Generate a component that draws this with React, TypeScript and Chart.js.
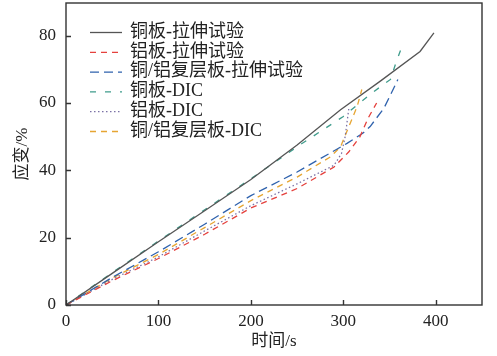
import React, { useEffect, useRef } from "react";
import { Chart, registerables } from "chart.js";

Chart.register(...registerables);

// ---- data ----
const cuTensileT = [0, 50, 100, 150, 200, 250, 297, 340, 383, 398];
const cuTensileS = [0, 9.4, 18.8, 28, 37.3, 47.5, 58, 66.5, 75.3, 80.8];

const alTensileT = [0, 50, 100, 150, 200, 250, 290, 306, 318, 327, 336];
const alTensileS = [0, 7.2, 13.8, 21, 28.8, 34.6, 41, 45.5, 50, 55.6, 60];

const compTensileT = [0, 50, 100, 150, 200, 250, 288, 304, 321, 329, 344, 351, 359];
const compTensileS = [0, 8.2, 15.8, 24, 32.5, 39.5, 45.5, 48, 51, 53, 58.5, 62.4, 67];

const cuDicT = [0, 50, 100, 150, 200, 250, 300, 331, 351, 357, 365];
const cuDicS = [0, 9.6, 19, 28.3, 37.5, 47, 56, 63, 67, 72, 78];

const alDicT = [0, 50, 100, 150, 200, 250, 290, 298, 302, 306];
const alDicS = [0, 7.6, 14.3, 22, 29.5, 36, 41.5, 45, 50, 58.5];

const compDicT = [0, 50, 100, 150, 200, 250, 286, 297, 306, 315, 320];
const compDicS = [0, 8, 15, 23, 31, 38, 44, 47, 53, 59, 64];

const seriesLabels = [
  "铜板-拉伸试验",
  "铝板-拉伸试验",
  "铜/铝复层板-拉伸试验",
  "铜板-DIC",
  "铝板-DIC",
  "铜/铝复层板-DIC",
];

const xTicks = [0, 100, 200, 300, 400];
const yTicks = [0, 20, 40, 60, 80];
const xTitle = "时间/s";
const yTitle = "应变/%";

const FONT = "'Liberation Serif', 'Times New Roman', 'Noto Sans CJK SC', serif";

const toPts = (t: number[], s: number[]) => t.map((v, i) => ({ x: v, y: s[i] }));

const framePlugin = {
  id: "frameTicks",
  afterDraw(chart: any) {
    const { ctx, chartArea } = chart;
    const xs = chart.scales.x;
    const ys = chart.scales.y;
    ctx.save();
    ctx.strokeStyle = "#333";
    ctx.lineWidth = 1.4;
    ctx.setLineDash([]);
    ctx.strokeRect(chartArea.left, chartArea.top, chartArea.right - chartArea.left, chartArea.bottom - chartArea.top);
    ctx.beginPath();
    for (const v of xTicks) {
      const px = Math.round(xs.getPixelForValue(v)) + 0.5;
      ctx.moveTo(px, chartArea.bottom);
      ctx.lineTo(px, chartArea.bottom - 5);
    }
    for (const v of yTicks) {
      const py = Math.round(ys.getPixelForValue(v)) + 0.5;
      ctx.moveTo(chartArea.left, py);
      ctx.lineTo(chartArea.left + 5, py);
    }
    ctx.stroke();

    // legend
    const lx0 = chartArea.left + 24;
    const lx1 = chartArea.left + 56;
    const tx = chartArea.left + 64;
    let y = chartArea.top + 29;
    ctx.font = `18px ${FONT}`;
    ctx.textBaseline = "middle";
    ctx.textAlign = "left";
    chart.data.datasets.forEach((ds: any) => {
      ctx.beginPath();
      ctx.strokeStyle = ds.borderColor;
      ctx.lineWidth = ds.borderWidth;
      ctx.setLineDash(ds.borderDash || []);
      ctx.moveTo(lx0, y + 0.5);
      ctx.lineTo(lx1, y + 0.5);
      ctx.stroke();
      ctx.setLineDash([]);
      ctx.fillStyle = "#222";
      ctx.fillText(ds.label, tx, y);
      y += 19.8;
    });
    ctx.restore();
  },
};

export default function App() {
  const ref = useRef<HTMLCanvasElement>(null);
  useEffect(() => {
    document.body.style.margin = "0";
    const c = ref.current!;
    const mk = (i: number, t: number[], s: number[], color: string, dash: number[], w: number) => ({
      label: seriesLabels[i],
      data: toPts(t, s),
      borderColor: color,
      backgroundColor: color,
      borderDash: dash,
      borderWidth: w,
      pointRadius: 0,
      fill: false,
      tension: 0,
    });
    const chart = new Chart(c, {
      type: "line",
      data: {
        datasets: [
          mk(0, cuTensileT, cuTensileS, "#555555", [], 1.3),
          mk(1, alTensileT, alTensileS, "#e5413d", [6, 5], 1.3),
          mk(2, compTensileT, compTensileS, "#2f62ad", [9, 5], 1.3),
          mk(3, cuDicT, cuDicS, "#3f9c8c", [6, 9], 1.3),
          mk(4, alDicT, alDicS, "#7b72a6", [1.5, 2.5], 1.3),
          mk(5, compDicT, compDicS, "#e6a532", [6, 5], 1.3),
        ],
      },
      options: {
        responsive: false,
        animation: false,
        devicePixelRatio: 1,
        layout: { padding: { left: 0, right: 15, top: 3, bottom: 0 } },
        plugins: { legend: { display: false }, tooltip: { enabled: false } },
        scales: {
          x: {
            type: "linear",
            min: 0,
            max: 450,
            grid: { display: false, drawTicks: false },
            border: { display: false },
            ticks: {
              stepSize: 100,
              includeBounds: false,
              autoSkip: false,
              maxRotation: 0,
              padding: 6,
              color: "#222",
              font: { family: FONT, size: 17 },
            },
            title: {
              display: true,
              text: xTitle,
              color: "#222",
              font: { family: FONT, size: 17 },
              padding: { top: 0, bottom: 4 },
            },
            afterFit(scale: any) {
              scale.height = 51;
              scale.paddingLeft = 0;
              scale.paddingRight = 0;
            },
          },
          y: {
            type: "linear",
            min: 0,
            max: 89.7,
            grid: { display: false, drawTicks: false },
            border: { display: false },
            ticks: {
              stepSize: 20,
              includeBounds: false,
              padding: 10,
              color: "#222",
              font: { family: FONT, size: 17 },
            },
            title: {
              display: true,
              text: yTitle,
              color: "#222",
              font: { family: FONT, size: 17 },
              padding: { top: 12, bottom: 0 },
            },
            afterFit(scale: any) {
              scale.width = 66;
              scale.paddingTop = 0;
              scale.paddingBottom = 0;
            },
          },
        },
      },
      plugins: [framePlugin],
    });
    return () => chart.destroy();
  }, []);
  return (
    <div style={{ width: 497, height: 356, background: "#fff" }}>
      <canvas ref={ref} width={497} height={356} />
    </div>
  );
}
